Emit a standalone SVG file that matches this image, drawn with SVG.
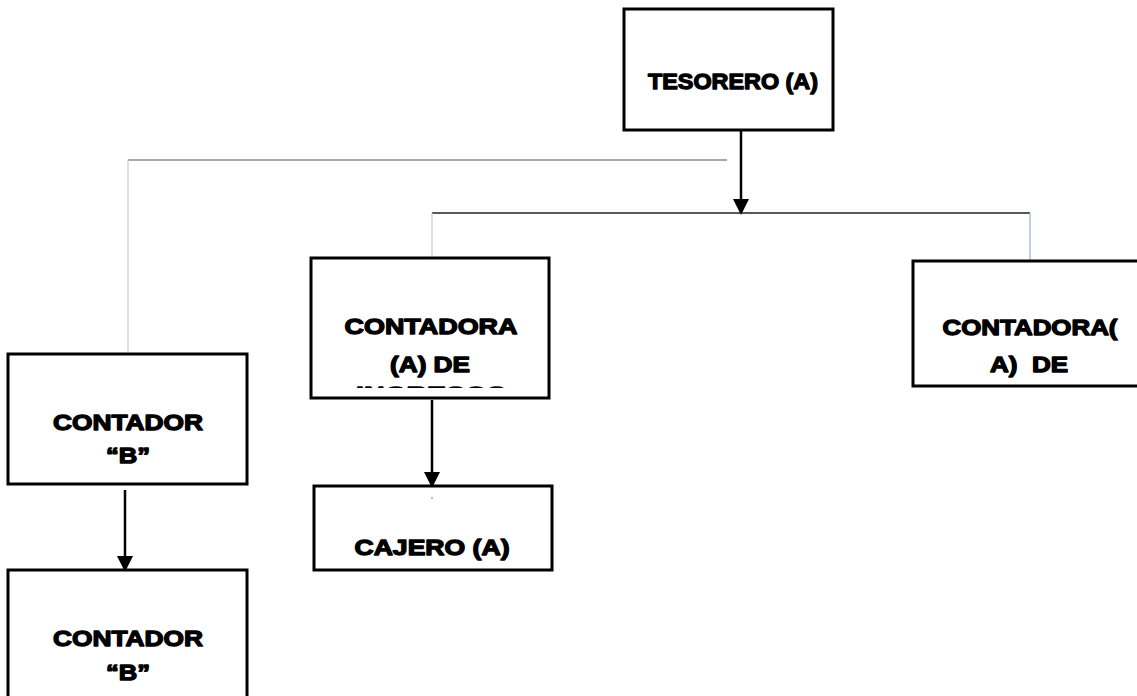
<svg xmlns="http://www.w3.org/2000/svg" width="1137" height="696" viewBox="0 0 1137 696">
<style>
.box{fill:#fff;stroke:#000;stroke-width:3}
.t{font-family:"Liberation Sans",Arial,sans-serif;font-weight:bold;font-size:22px;fill:#000;stroke:#000;stroke-width:1.3;stroke-linejoin:round;text-anchor:middle}
.thin{fill:none;stroke:#555;stroke-width:1.2}
.arr{fill:none;stroke:#000;stroke-width:2.5}
</style>
<defs>
<marker id="ah" markerWidth="16" markerHeight="16" refX="14" refY="8" orient="auto" markerUnits="userSpaceOnUse" viewBox="0 0 16 16">
<path d="M0,0 L16,8 L0,16 Z" fill="#000"/>
</marker>
<clipPath id="clipIng"><rect x="311" y="384" width="238" height="4"/></clipPath>
</defs>
<rect width="1137" height="696" fill="#fff"/>
<g id="connectors">
<line class="arr" x1="741" y1="131" x2="741" y2="213" marker-end="url(#ah)"/>
<line class="thin" x1="128" y1="160" x2="727" y2="160"/>
<line x1="128" y1="160" x2="128" y2="356" stroke="#c8c8c8" stroke-width="1.2"/>
<line x1="432" y1="213" x2="1030" y2="213" stroke="#222" stroke-width="1.4"/>
<line x1="432" y1="213" x2="432" y2="258" stroke="#c8c8c8" stroke-width="1.2"/>
<line x1="1030" y1="213" x2="1030" y2="261" stroke="#8fb4d9" stroke-width="1.2"/>
<line class="arr" x1="432" y1="400" x2="432" y2="486" marker-end="url(#ah)"/>
<line class="arr" x1="125" y1="490" x2="125" y2="570" marker-end="url(#ah)"/>
</g>
<g id="tesorero">
<rect class="box" x="624" y="9" width="209" height="121"/>
<text class="t" x="733" y="89" textLength="170" lengthAdjust="spacingAndGlyphs">TESORERO (A)</text>
</g>
<g id="contadora-ingresos">
<rect class="box" x="311" y="258" width="238" height="140"/>
<text class="t" x="431" y="334" textLength="173" lengthAdjust="spacingAndGlyphs">CONTADORA</text>
<text class="t" x="430" y="372" textLength="80" lengthAdjust="spacingAndGlyphs">(A) DE</text>
<text class="t" x="431" y="402" textLength="150" lengthAdjust="spacingAndGlyphs" clip-path="url(#clipIng)">INGRESOS</text>
</g>
<g id="contadora-right">
<rect class="box" x="913" y="261" width="230" height="125"/>
<text class="t" x="1030" y="335" textLength="175" lengthAdjust="spacingAndGlyphs">CONTADORA(</text>
<text class="t" x="1029" y="372" textLength="78" lengthAdjust="spacingAndGlyphs" xml:space="preserve">A)  DE</text>
</g>
<g id="cajero">
<rect class="box" x="314" y="486" width="238" height="84"/>
<circle cx="432" cy="498" r="0.8" fill="#666"/>
<text class="t" x="432" y="555" textLength="155" lengthAdjust="spacingAndGlyphs">CAJERO (A)</text>
</g>
<g id="contador-b1">
<rect class="box" x="8" y="354" width="239" height="130"/>
<text class="t" x="128" y="430" textLength="150" lengthAdjust="spacingAndGlyphs">CONTADOR</text>
<text class="t" x="128" y="463" textLength="44" lengthAdjust="spacingAndGlyphs">“B”</text>
</g>
<g id="contador-b2">
<rect class="box" x="8" y="570" width="239" height="140"/>
<text class="t" x="128" y="646" textLength="150" lengthAdjust="spacingAndGlyphs">CONTADOR</text>
<text class="t" x="128" y="680" textLength="44" lengthAdjust="spacingAndGlyphs">“B”</text>
</g>
</svg>
